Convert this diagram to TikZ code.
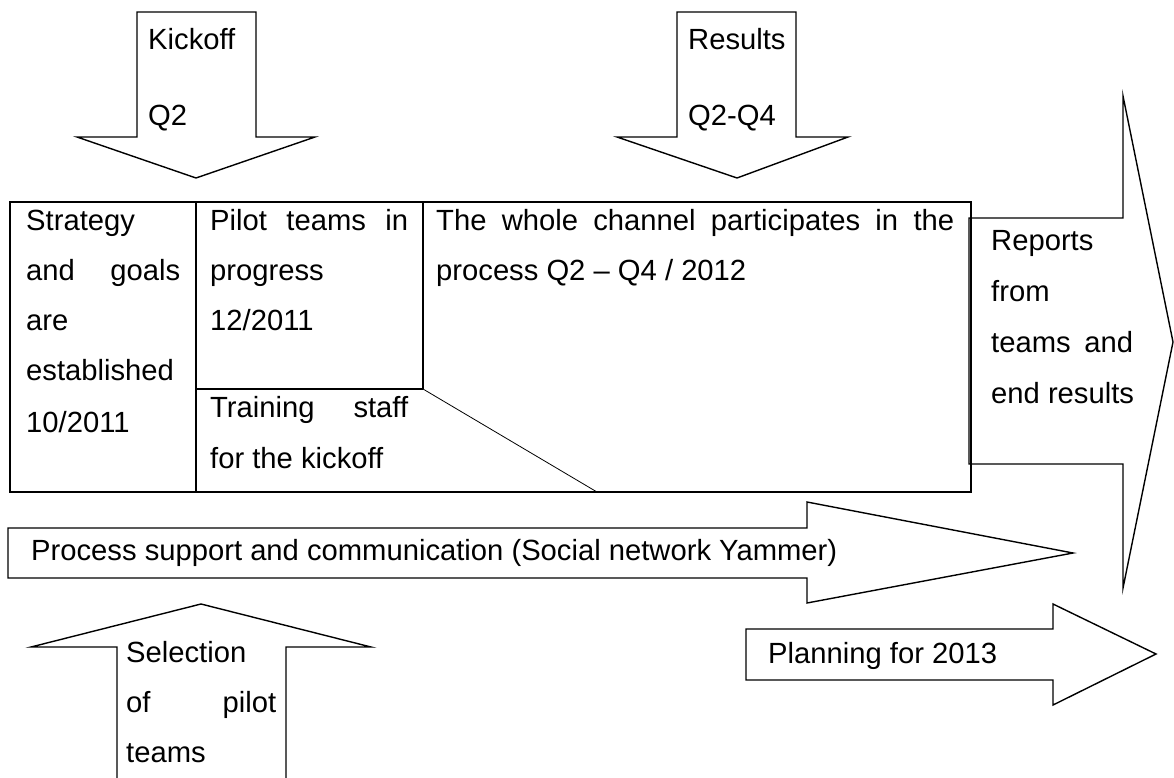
\documentclass[tikz,border=0pt]{standalone}
\usepackage{fontspec}
\setmainfont{Liberation Sans}
\tikzset{
  outline/.style={line width=1.4pt, line join=miter},
  thinline/.style={line width=0.8pt},
  txt/.style={anchor=base west, inner sep=0pt, font=\fontsize{29.2}{35}\selectfont},
}
\begin{document}
\begin{tikzpicture}[x=1pt,y=-1pt]
		\useasboundingbox (0,0) rectangle (1174,778);
		%%%%% START %%%%%
		
		% kickoff arrow
		\draw[outline] (137,12) -- (256,12) -- (256,137) -- (315,137) -- (196,178) -- (77,137) -- (137,137) -- cycle;
		\node[txt] (kickoff) at (148,50) {Kickoff};
		\node[txt] (kickoffq) at (148,126) {Q2};
		
		% results arrow
		\draw[outline] (677,12) -- (796,12) -- (796,137) -- (848,137) -- (737,178) -- (617,137) -- (677,137) -- cycle;
		\node[txt] (results) at (688,50) {Results};
		\node[txt] (resultsq) at (688,126) {Q2-Q4};
		
		% table
		\draw[outline] (10,202) rectangle (971,492);
		\draw[outline] (196,202) -- (196,492);
		\draw[outline] (423,202) -- (423,389);
		\draw[outline] (196,389) -- (423,389);
		\draw[thinline] (423,389) -- (597,492);
		
		\node[txt] (strat1) at (26,230) {Strategy};
		\node[txt] (strat2) at (26,280) {\makebox[154pt][s]{and goals}};
		\node[txt] (strat3) at (26,330) {are};
		\node[txt] (strat4) at (26,380) {established};
		\node[txt] (strat5) at (26,432) {10/2011};
		
		\node[txt] (pilot1) at (210,230) {\makebox[198pt][s]{Pilot teams in}};
		\node[txt] (pilot2) at (210,280) {progress};
		\node[txt] (pilot3) at (210,330) {12/2011};
		\node[txt] (train1) at (210,417) {\makebox[198pt][s]{Training staff}};
		\node[txt] (train2) at (210,468) {for the kickoff};
		
		\node[txt] (whole1) at (436,230) {\makebox[518pt][s]{The whole channel participates in the}};
		\node[txt] (whole2) at (436,280) {process Q2 -- Q4 / 2012};
		
		% reports arrow
		\draw[outline] (969,218) -- (1123,218) -- (1123,96) -- (1173,342) -- (1123,588) -- (1123,464) -- (969,464) -- cycle;
		\node[txt] (rep1) at (991,250) {Reports};
		\node[txt] (rep2) at (991,301) {from};
		\node[txt] (rep3) at (991,352) {\makebox[142pt][s]{teams and}};
		\node[txt] (rep4) at (991,403) {end results};
		
		% process arrow
		\draw[outline] (8,528) -- (807,528) -- (807,502) -- (1073,553) -- (807,603) -- (807,578) -- (8,578) -- cycle;
		\node[txt] (support) at (31,560) {Process support and communication (Social network Yammer)};
		
		% planning arrow
		\draw[outline] (746,629) -- (1053,629) -- (1053,604) -- (1156,654) -- (1053,705) -- (1053,680) -- (746,680) -- cycle;
		\node[txt] (planning) at (768,663) {Planning for 2013};
		
		% selection arrow
		\draw[outline] (117,800) -- (117,647) -- (31,647) -- (201,604) -- (371,647) -- (286,647) -- (286,800);
		\node[txt] (sel1) at (126,662) {Selection};
		\node[txt] (sel2) at (126,712) {\makebox[150pt][s]{of pilot}};
		\node[txt] (sel3) at (126,762) {teams};
		
		%%%%% END %%%%%
	\end{tikzpicture}
\end{document}
